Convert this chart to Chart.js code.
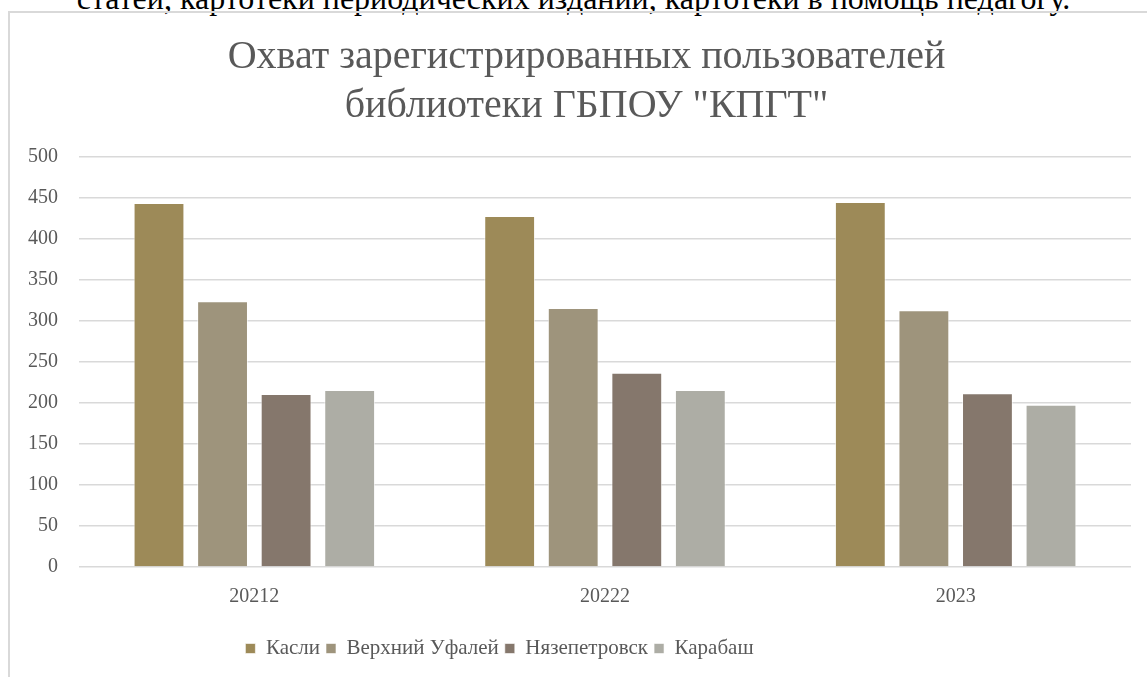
<!DOCTYPE html>
<html>
<head>
<meta charset="utf-8">
<script src="https://cdn.jsdelivr.net/npm/chart.js@4"></script>
<style>
  html, body { margin: 0; padding: 0; background: #fff; overflow: hidden; }
  body { width: 1147px; height: 677px; position: relative; }
  .cut {
    position: absolute; left: 0; width: 1147px; top: -18px;
    text-align: center; font-family: "Liberation Serif", serif;
    font-size: 32px; line-height: 1; color: #000; white-space: nowrap;
  }
  .frame {
    position: absolute; left: 8px; top: 11px; right: -5px; bottom: -5px;
    border-left: 2px solid #d9d9d9; border-top: 2px solid #d9d9d9;
  }
  .box { position: absolute; left: 0; top: 0; width: 1147px; height: 677px; }
</style>
</head>
<body>
<div class="cut">статей, картотеки периодических изданий, картотеки в помощь педагогу.</div>
<div class="frame"></div>
<div class="box"><canvas id="chart"></canvas></div>
<script>
// данные графика
const years = ['20212', '20222', '2023'];
const seriesNames = ['Касли', 'Верхний Уфалей', 'Нязепетровск', 'Карабаш'];
const kasli = [444, 428, 445];
const verkhUfaley = [324, 316, 313];
const nyazepetrovsk = [211, 237, 212];
const karabash = [216, 216, 198];
const colors = ['#9d8a58', '#9e947c', '#85776c', '#adada5'];

const serif = '"Liberation Serif", serif';
const ctx = document.getElementById('chart').getContext('2d');

// сдвиг заголовка и легенды по горизонтали, как в оригинале
const shiftBoxes = {
    id: 'shiftBoxes',
    afterLayout(chart) {
        chart.titleBlock.left += 21;
        chart.titleBlock.right += 21;
        chart.legend.left -= 66;
        chart.legend.right -= 66;
    }
};

const chart = new Chart(ctx, {
    type: 'bar',
    data: {
        labels: years,
        datasets: [kasli, verkhUfaley, nyazepetrovsk, karabash].map((vals, i) => ({
            label: seriesNames[i],
            data: vals,
            backgroundColor: colors[i],
            borderColor: 'rgba(255,255,255,0.6)',
            borderWidth: 1,
            categoryPercentage: 0.725,
            barPercentage: 0.8
        }))
    },
    options: {
        responsive: true,
        maintainAspectRatio: false,
        animation: false,
        layout: { padding: { top: 23, left: 0, right: 16, bottom: 8 } },
        plugins: {
            title: {
                display: true,
                text: ['Охват зарегистрированных пользователей', 'библиотеки ГБПОУ "КПГТ"'],
                color: '#595959',
                font: { family: serif, size: 40, weight: 'normal', lineHeight: 1.225 },
                padding: { top: 10, bottom: 26 }
            },
            legend: {
                position: 'bottom',
                labels: {
                    color: '#595959',
                    font: { family: serif, size: 21 },
                    boxWidth: 10,
                    boxHeight: 10,
                    padding: 6
                }
            },
            tooltip: { enabled: false }
        },
        scales: {
            x: {
                grid: { display: false },
                border: { display: false },
                ticks: { color: '#595959', font: { family: serif, size: 20 }, padding: 10 },
                afterFit: (scale) => { scale.height = 65; }
            },
            y: {
                min: 0,
                max: 500,
                ticks: { stepSize: 50, color: '#595959', font: { family: serif, size: 20 }, padding: 21 },
                grid: { color: '#d9d9d9', lineWidth: 1.5, drawTicks: false },
                border: { display: false },
                afterFit: (scale) => { scale.width = 79; }
            }
        }
    },
    plugins: [shiftBoxes]
});
</script>
</body>
</html>
